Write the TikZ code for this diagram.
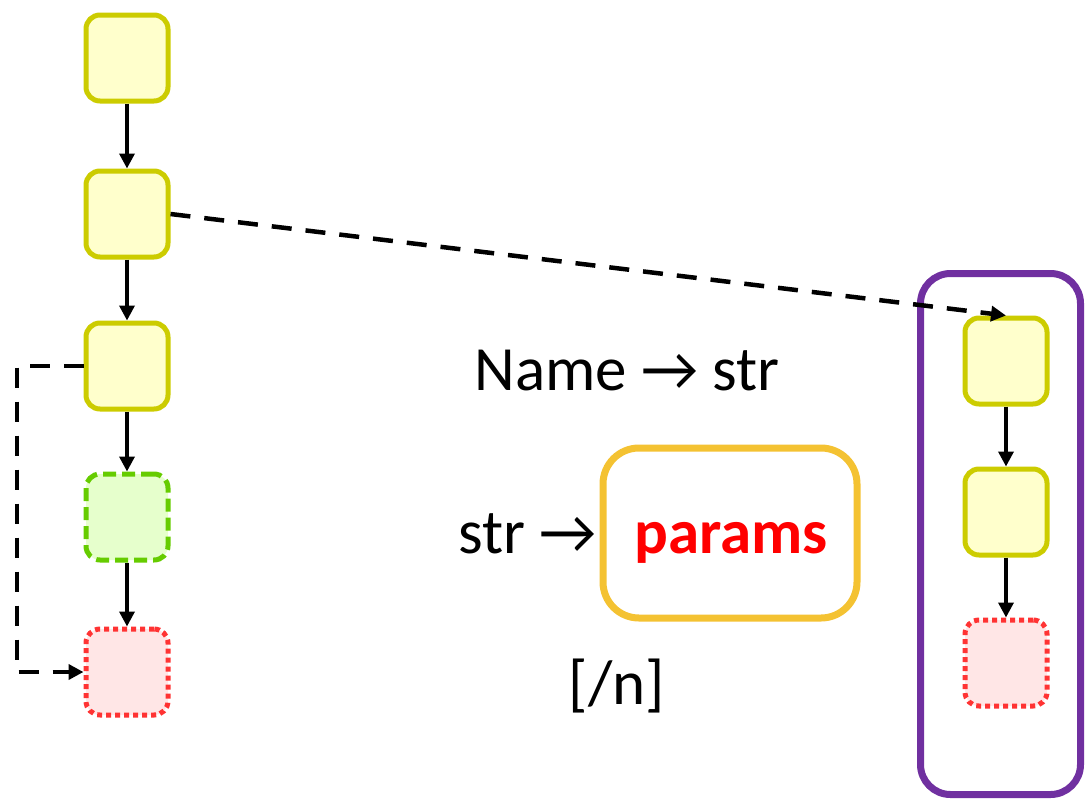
\documentclass[tikz,border=0pt]{standalone}
\usepackage{fontspec}
\setmainfont{Carlito}
\usetikzlibrary{arrows.meta}
\definecolor{ybord}{HTML}{CCCC00}
\definecolor{yfill}{HTML}{FFFFCC}
\definecolor{gbord}{HTML}{66CC00}
\definecolor{gfill}{HTML}{E6FFCC}
\definecolor{rbord}{HTML}{FF3333}
\definecolor{rfill}{HTML}{FFE6E6}
\definecolor{purp}{HTML}{7030A0}
\definecolor{gold}{HTML}{F4C232}
\definecolor{pred}{HTML}{FF0000}
\tikzset{
  blk/.style={minimum width=82pt,minimum height=86pt,rounded corners=14pt,line width=5pt,inner sep=0pt},
  ybox/.style={blk,draw=ybord,fill=yfill},
  gbox/.style={blk,draw=gbord,fill=gfill,dash pattern=on 13pt off 6pt},
  rbox/.style={blk,draw=rbord,fill=rfill,dash pattern=on 5pt off 4pt},
  flow/.style={line width=3.5pt,-{Triangle[length=15pt,width=15pt]}},
  jump/.style={line width=4.5pt,dash pattern=on 20pt off 14pt,-{Triangle[length=15pt,width=15pt]}},
  lbl/.style={font=\fontsize{63}{66}\selectfont,inner sep=0pt}
}
\begin{document}
\begin{tikzpicture}[x=1pt,y=-1pt]
\useasboundingbox (0,0) rectangle (1092,801);
% left column
\node[ybox] (a1) at (127,58) {};
\node[ybox] (a2) at (127,214) {};
\node[ybox] (a3) at (127,366) {};
\node[gbox] (a4) at (127,517) {};
\node[rbox] (a5) at (127,672) {};
\draw[flow] (a1) -- (a2);
\draw[flow] (a2) -- (a3);
\draw[flow] (a3) -- (a4);
\draw[flow] (a4) -- (a5);
% right panel
\node[draw=purp,line width=7pt,rounded corners=30pt,minimum width=160pt,minimum height=521pt,inner sep=0pt] (panel) at (1000.5,534) {};
\node[ybox] (b1) at (1006,361) {};
\node[ybox] (b2) at (1006,512) {};
\node[rbox] (b3) at (1006,663) {};
\draw[flow] (b1) -- (b2);
\draw[flow] (b2) -- (b3);
% dashed connectors
\coordinate (c1) at (17,366);
\coordinate (c2) at (17,672);
\draw[jump] (a3.west) -- (c1) -- (c2) -- (a5.west);
\draw[jump] (a2.east) -- (b1.north);
% middle texts
\node[lbl,anchor=base] (t1) at (627,390) {Name → str};
\node[draw=gold,line width=7pt,rounded corners=36pt,minimum width=254pt,minimum height=170pt,inner sep=0pt] (pbox) at (730,533) {};
\node[lbl,anchor=base,text=pred,font=\fontsize{63}{66}\selectfont\bfseries] (pt) at (731,553) {params};
\node[lbl,anchor=base east] (t2) at (597,553) {str →};
\node[lbl,anchor=base] (t3) at (617,704) {[/n]};
\end{tikzpicture}
\end{document}
